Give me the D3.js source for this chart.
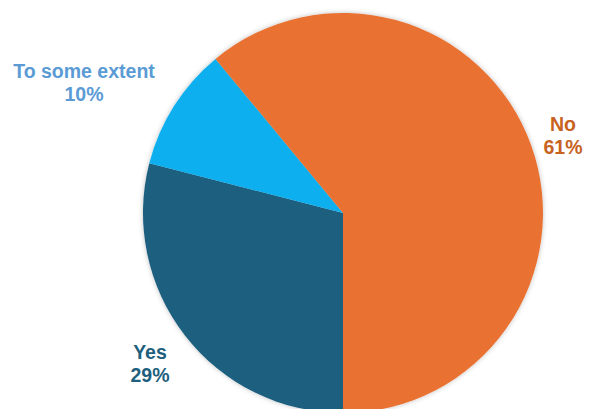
<!DOCTYPE html>
<html>
<head>
<meta charset="utf-8">
<script src="https://cdn.jsdelivr.net/npm/d3@7"></script>
<style>
  html, body { margin: 0; padding: 0; background: #ffffff; overflow: hidden; }
  svg { display: block; }
</style>
</head>
<body>
<svg id="chart" width="589" height="409"></svg>
<script>
// Survey answers, drawn clockwise starting from the bottom of the circle
const categories = ["Yes", "To some extent", "No"];
const values = [29, 10, 61];
const sliceColors = ["#1B5E7F", "#0BAFEE", "#E97232"];
const labelColors = ["#1F5F7E", "#5B9BD5", "#C8621F"];

const width = 589, height = 409;
const cx = 343, cy = 213, radius = 200;

const svg = d3.select("#chart");

const defs = svg.append("defs");
const shadow = defs.append("filter").attr("id", "soft-shadow")
  .attr("x", "-10%").attr("y", "-10%").attr("width", "120%").attr("height", "120%");
shadow.append("feDropShadow")
  .attr("dx", 0).attr("dy", 0).attr("stdDeviation", 2.5)
  .attr("flood-color", "#000").attr("flood-opacity", 0.25);

const pie = d3.pie().sort(null).value(d => d)
  .startAngle(Math.PI).endAngle(3 * Math.PI);
const arc = d3.arc().innerRadius(0).outerRadius(radius);

const g = svg.append("g").attr("transform", `translate(${cx},${cy})`);

g.append("g").attr("filter", "url(#soft-shadow)")
  .selectAll("path")
  .data(pie(values))
  .join("path")
  .attr("d", arc)
  .attr("fill", (d, i) => sliceColors[i]);

// Outside labels: category name above its percentage
const labelPos = [
  { x: 150, y: 359 },
  { x: 84, y: 78 },
  { x: 563, y: 131 }
];
const total = d3.sum(values);

const labels = svg.append("g")
  .attr("font-family", "Liberation Sans, Arial, sans-serif")
  .attr("font-weight", "bold")
  .attr("font-size", 19.5)
  .attr("text-anchor", "middle");

categories.forEach((name, i) => {
  const t = labels.append("text")
    .attr("x", labelPos[i].x)
    .attr("y", labelPos[i].y)
    .attr("fill", labelColors[i]);
  t.append("tspan").attr("x", labelPos[i].x).text(name);
  t.append("tspan").attr("x", labelPos[i].x).attr("dy", 23)
    .text(Math.round(values[i] / total * 100) + "%");
});
</script>
</body>
</html>
